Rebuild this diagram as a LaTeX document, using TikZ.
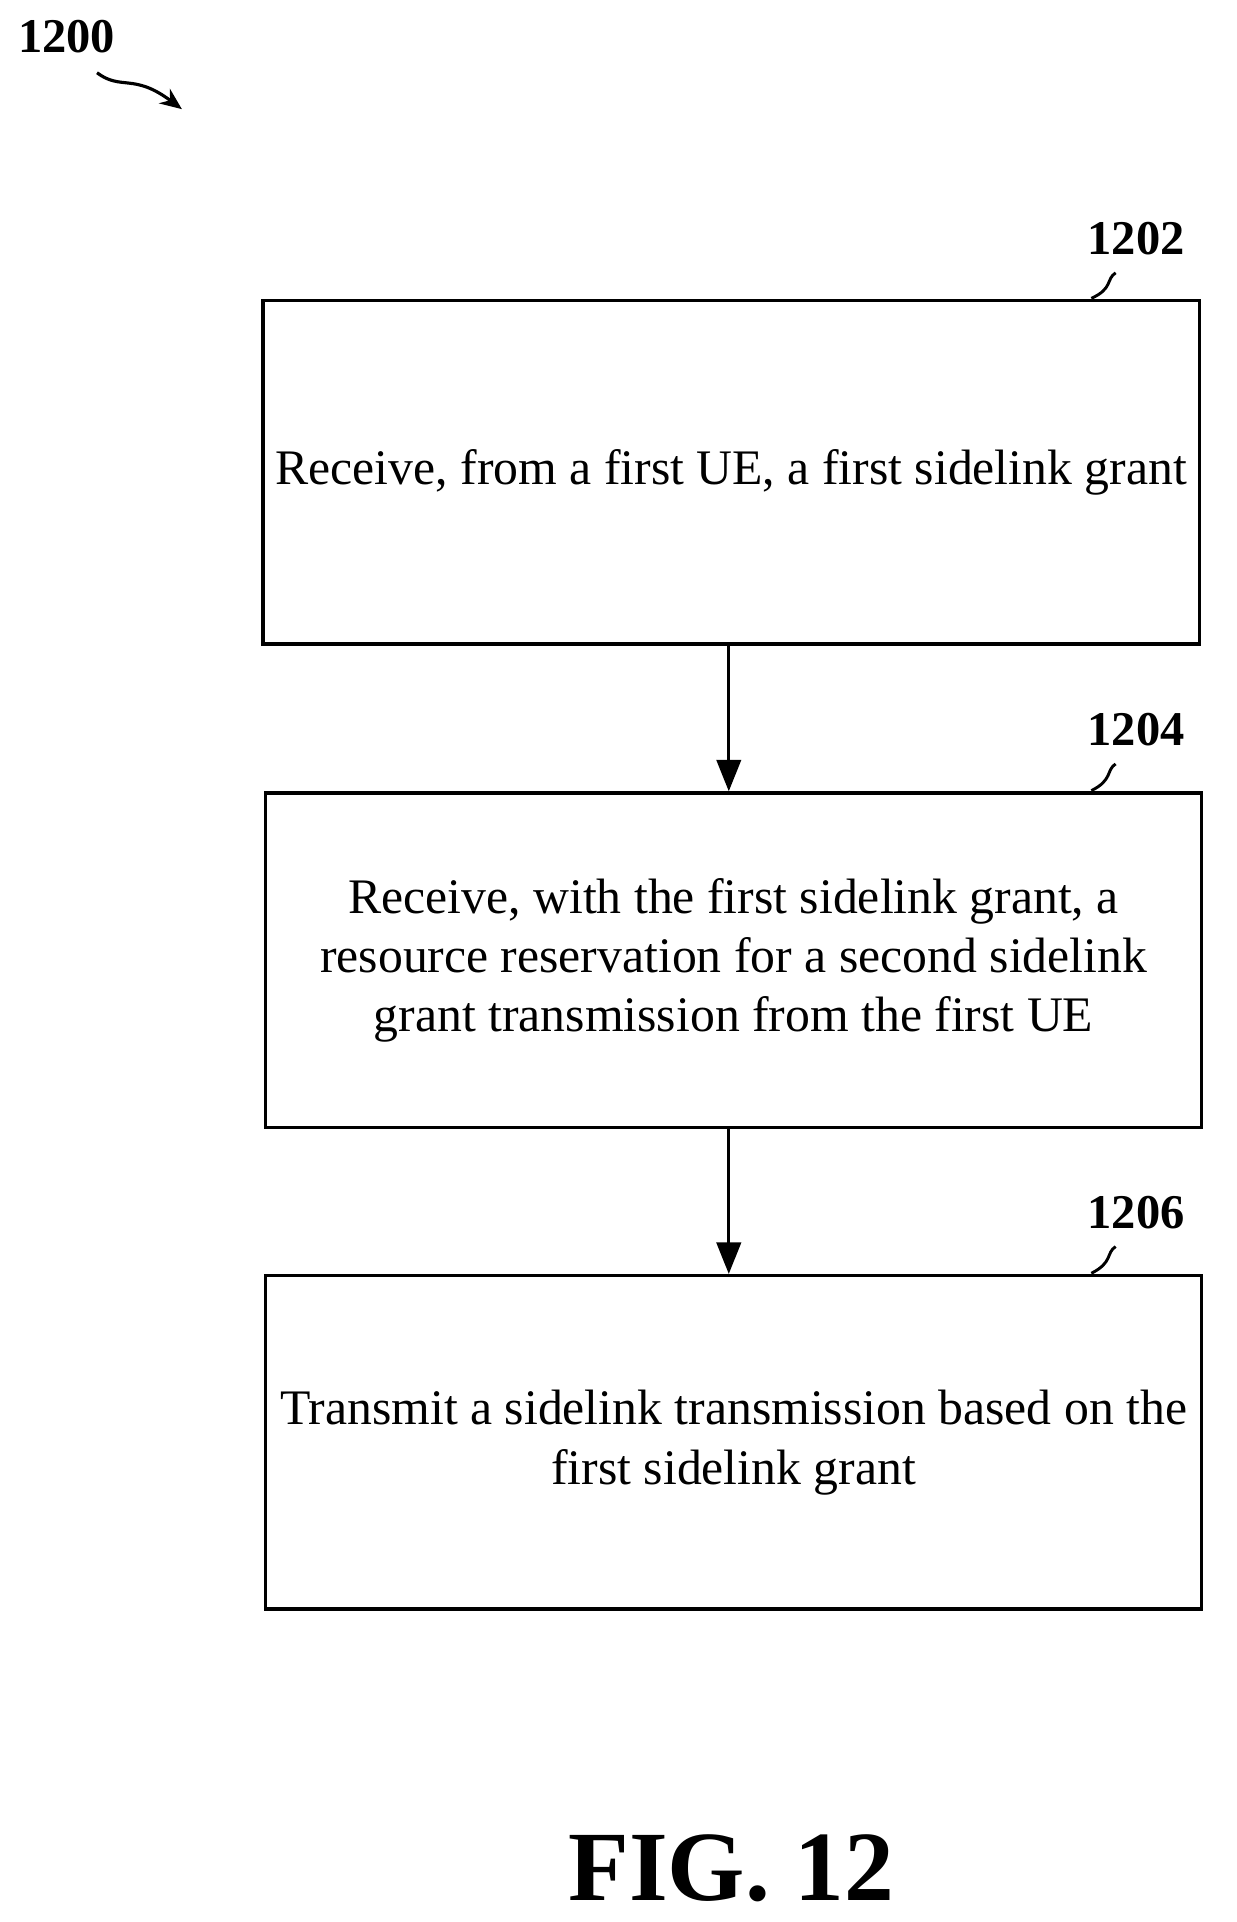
\documentclass[tikz,border=0pt]{standalone}
\usepackage{fontspec}
\setmainfont{Liberation Serif}
\usetikzlibrary{arrows.meta}
\begin{document}
\begin{tikzpicture}[x=1pt,y=-1pt,
 box/.style={draw,line width=2.8pt,align=center,font=\fontsize{41}{49}\selectfont,inner sep=0pt},
 lab/.style={font=\bfseries\fontsize{40}{44}\selectfont},
 arr/.style={line width=2.8pt,-{Triangle[length=26pt,width=20pt]}},
 sq/.style={line width=2.4pt}]
\useasboundingbox (0,0) rectangle (1020,1585);
\node[box,minimum width=772pt,minimum height=283pt] (b1) at (603,389.5) {Receive, from a first UE, a first sidelink grant};
\node[box,minimum width=772pt,minimum height=276pt] (b2) at (605,792) {Receive, with the first sidelink grant, a\\resource reservation for a second sidelink\\grant transmission from the first UE};
\node[box,minimum width=772pt,minimum height=275pt] (b3) at (605,1189.5) {Transmit a sidelink transmission based on the\\first sidelink grant};
\draw[arr] (b1.south -| 601,0) -- (b2.north -| 601,0);
\draw[arr] (b2.south -| 601,0) -- (b3.north -| 601,0);
\node[lab] (l1) at (937,197) {1202};
\node[lab] (l2) at (937,602) {1204};
\node[lab] (l3) at (937,1000) {1206};
\node[lab] (l0) at (55,30) {1200};
\draw[sq] (920,225) .. controls (912,230) and (918,238) .. (900,246);
\draw[sq] (920,630) .. controls (912,635) and (918,643) .. (900,652);
\draw[sq] (920,1028) .. controls (912,1033) and (918,1041) .. (900,1050);
\draw[line width=2.6pt,-{Stealth[length=18pt,width=15pt]}] (80,60) .. controls (100,75) and (110,60) .. (150,90);
\node[font=\bfseries\fontsize{82}{90}\selectfont] (fig) at (603,1541) {FIG. 12};
\end{tikzpicture}
\end{document}
